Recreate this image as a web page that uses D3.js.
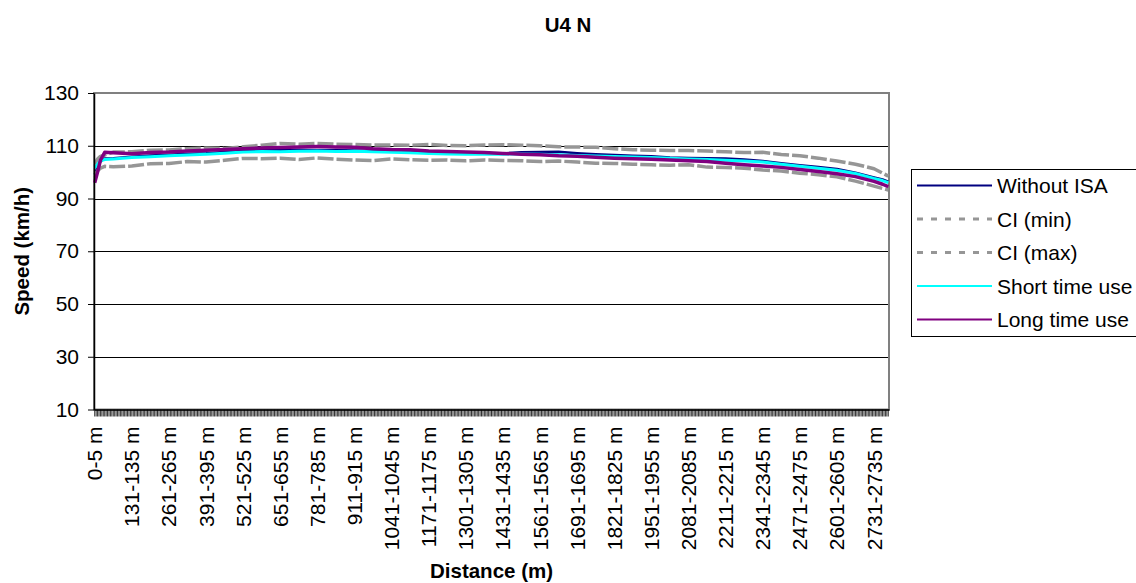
<!DOCTYPE html>
<html>
<head>
<meta charset="utf-8">
<script src="https://cdn.jsdelivr.net/npm/d3@7"></script>
<style>
body{margin:0;background:#fff;}
text{font-family:"Liberation Sans",Arial,sans-serif;}
</style>
</head>
<body>
<svg id="chart" width="1136" height="583"></svg>
<script>
// distance bins of 5 m, one category each
var nBins = 557;
var labelEvery = 26;
var yTicks = [10, 30, 50, 70, 90, 110, 130];

// category index of each value
var sampleIdx = [0, 2, 4, 7, 13, 26, 39, 52, 65, 78, 91, 104, 117, 130, 143, 156, 169, 182, 195, 208,
    221, 234, 247, 260, 273, 286, 299, 312, 325, 338, 351, 364, 377, 390, 403, 416, 429, 442, 455, 468,
    481, 494, 507, 520, 533, 546, 552, 556];

var withoutIsa = [99, 102, 104, 105.2, 105.3, 105.8, 106.3, 106.6, 107, 107.2, 107.6, 108, 108.3, 108.3, 108.5, 108.3, 108.4, 108.2, 108, 107.9,
    107.8, 107.6, 107.3, 107.3, 107.2, 107.1, 107.5, 107.6, 107.7, 107.2, 106.8, 106.5, 106.2, 106, 105.5, 105.4, 105.3, 105.2, 104.8, 104.2,
    103.4, 102.6, 101.9, 101.2, 99.8, 98, 97.2, 96.4];
var ciMin = [98.5, 100.5, 101.5, 102.2, 102, 102.3, 103.2, 103.3, 104, 103.8, 104.5, 105.2, 105.1, 105.3, 104.8, 105.4, 104.9, 104.6, 104.4, 105,
    104.7, 104.5, 104.6, 104.3, 104.6, 104.4, 104.3, 104, 104.2, 103.8, 103.4, 103.3, 103, 102.8, 102.6, 102.8, 101.9, 101.8, 101.5, 100.8,
    100.4, 99.6, 99, 98.2, 96.6, 94.7, 93.8, 93.2];
var ciMax = [103, 105, 106, 106.5, 107.6, 107.7, 108.3, 108.4, 108.9, 109.1, 109, 109.6, 110.2, 110.9, 110.6, 110.9, 110.6, 110.5, 110.3, 110.3,
    110.2, 110.5, 110.1, 110, 110.3, 110.4, 110.2, 110, 109.6, 109.5, 109.4, 108.9, 108.5, 108.3, 108.2, 108.2, 108, 107.7, 107.4, 107.5,
    106.7, 106.2, 105.3, 104.2, 103, 101.3, 99.6, 98.5];
var shortUse = [101.5, 103, 104.3, 104.8, 105, 105.5, 105.8, 106.2, 106.5, 106.8, 107.2, 107.6, 107.8, 107.7, 107.9, 108, 107.8, 107.9, 107.7, 107.5,
    107.3, 107.1, 106.9, 106.8, 106.9, 106.8, 106.9, 106.8, 106.6, 106.3, 106.1, 105.9, 105.7, 105.5, 105.3, 105, 104.8, 104.5, 104.2, 103.8,
    103, 102.2, 101.5, 100.7, 99.5, 97.6, 96.8, 96];
var longUse = [96, 100, 104.5, 107.5, 107.3, 107, 107.4, 107.6, 108, 108.3, 108.6, 108.9, 109.1, 109.3, 109.5, 109.7, 109.5, 109.4, 108.9, 108.6,
    108.5, 108, 107.8, 107.6, 107.4, 107.1, 106.8, 106.6, 106.2, 106, 105.6, 105.3, 105.1, 104.9, 104.6, 104.3, 104, 103.4, 102.8, 102.3,
    101.8, 101, 100.2, 99.4, 98.3, 96.5, 95.4, 94.5];

var seriesNames = ["Without ISA", "CI (min)", "CI (max)", "Short time use", "Long time use"];
var seriesValues = [withoutIsa, ciMin, ciMax, shortUse, longUse];
var seriesColors = ["#000080", "#969696", "#969696", "#00ffff", "#800080"];
var seriesWidths = [2.5, 3.5, 3.5, 3, 3.5];
var seriesDash = [null, "16,3", "16,3", null, null];

function binLabel(i) {
    if (i == 0) return "0-5 m";
    return (5 * i + 1) + "-" + (5 * i + 5) + " m";
}
var categories = d3.range(nBins).map(binLabel);

var plot = {left: 94, right: 889, top: 93, bottom: 409.5};
var svg = d3.select("#chart");

var xScale = d3.scaleBand()
    .domain(categories)
    .range([plot.left, plot.right])
    .padding(0);
var bw = xScale.bandwidth();

var yScale = d3.scaleLinear()
    .domain([10, 130])
    .range([plot.bottom, plot.top]);

// title
svg.append("text")
    .attr("x", 568)
    .attr("y", 32)
    .attr("text-anchor", "middle")
    .style("font-size", "20.5px")
    .style("font-weight", "bold")
    .text("U4 N");

// gridlines
svg.append("g").selectAll("line")
    .data(yTicks.filter(function(d) { return d > 10 && d < 130; }))
    .enter().append("line")
    .attr("x1", plot.left)
    .attr("x2", plot.right)
    .attr("y1", function(d) { return Math.round(yScale(d)) + 0.5; })
    .attr("y2", function(d) { return Math.round(yScale(d)) + 0.5; })
    .attr("stroke", "#000")
    .attr("stroke-width", 1);

// plot area border
svg.append("rect")
    .attr("x", plot.left)
    .attr("y", plot.top)
    .attr("width", plot.right - plot.left)
    .attr("height", plot.bottom - plot.top)
    .attr("fill", "none")
    .attr("stroke", "#808080")
    .attr("stroke-width", 2);

// series
var line = d3.line()
    .x(function(d) { return xScale(categories[d.i]) + bw / 2; })
    .y(function(d) { return yScale(d.v); });

seriesValues.forEach(function(vals, s) {
    var pts = sampleIdx.map(function(idx, j) { return {i: idx, v: vals[j]}; });
    svg.append("path")
        .datum(pts)
        .attr("d", line)
        .attr("fill", "none")
        .attr("stroke", seriesColors[s])
        .attr("stroke-width", seriesWidths[s])
        .attr("stroke-dasharray", seriesDash[s])
        .attr("stroke-linejoin", "round");
});

// y axis
var yAxis = svg.append("g")
    .attr("transform", "translate(" + plot.left + ",0)")
    .call(d3.axisLeft(yScale).tickValues(yTicks).tickSize(6).tickSizeOuter(0).tickPadding(9));
yAxis.select(".domain").attr("stroke", "#000").attr("stroke-width", 1.5);
yAxis.selectAll("text").style("font-size", "21px").attr("fill", "#000").style("font-family", null);

// x axis: a tick for every category
var xTicks = svg.append("g")
    .attr("transform", "translate(0," + plot.bottom + ")")
    .call(d3.axisBottom(xScale).tickValues(categories).tickSize(7).tickSizeOuter(0).tickFormat(""));
xTicks.select(".domain").attr("stroke", "#000").attr("stroke-width", 1.5);
xTicks.selectAll(".tick line").attr("stroke", "#000").attr("stroke-width", 0.8);

// x axis labels, every 26th category
var xLabels = svg.append("g")
    .attr("transform", "translate(0," + plot.bottom + ")")
    .call(d3.axisBottom(xScale)
        .tickValues(categories.filter(function(d, i) { return i % labelEvery == 0; }))
        .tickSize(0));
xLabels.select(".domain").remove();
xLabels.selectAll("text")
    .attr("transform", "rotate(-90)")
    .attr("text-anchor", "end")
    .attr("x", -17)
    .attr("y", 0)
    .attr("dy", "0.36em")
    .attr("fill", "#000")
    .style("font-size", "21px")
    .style("font-family", null);

// axis titles
svg.append("text")
    .attr("x", (plot.left + plot.right) / 2)
    .attr("y", 578)
    .attr("text-anchor", "middle")
    .style("font-size", "20.5px")
    .style("font-weight", "bold")
    .text("Distance (m)");

svg.append("text")
    .attr("transform", "translate(29," + (plot.top + plot.bottom) / 2 + ") rotate(-90)")
    .attr("text-anchor", "middle")
    .style("font-size", "20.5px")
    .style("font-weight", "bold")
    .text("Speed (km/h)");

// legend
var legend = svg.append("g");
legend.append("rect")
    .attr("x", 911.5)
    .attr("y", 169.5)
    .attr("width", 240)
    .attr("height", 167)
    .attr("fill", "#fff")
    .attr("stroke", "#000")
    .attr("stroke-width", 1);

var rows = legend.selectAll(".row")
    .data(seriesNames)
    .enter().append("g")
    .attr("transform", function(d, i) { return "translate(0," + (185.5 + i * 33.5) + ")"; });
rows.append("line")
    .attr("x1", 917)
    .attr("x2", 992)
    .attr("y1", 0)
    .attr("y2", 0)
    .attr("stroke", function(d, i) { return seriesColors[i]; })
    .attr("stroke-width", function(d, i) { return i == 1 || i == 2 ? 3 : 2.2; })
    .attr("stroke-dasharray", function(d, i) { return i == 1 || i == 2 ? "6,8" : null; });
rows.append("text")
    .attr("x", 997)
    .attr("y", 0)
    .attr("dy", "0.36em")
    .style("font-size", "21px")
    .text(function(d) { return d; });
</script>
</body>
</html>
